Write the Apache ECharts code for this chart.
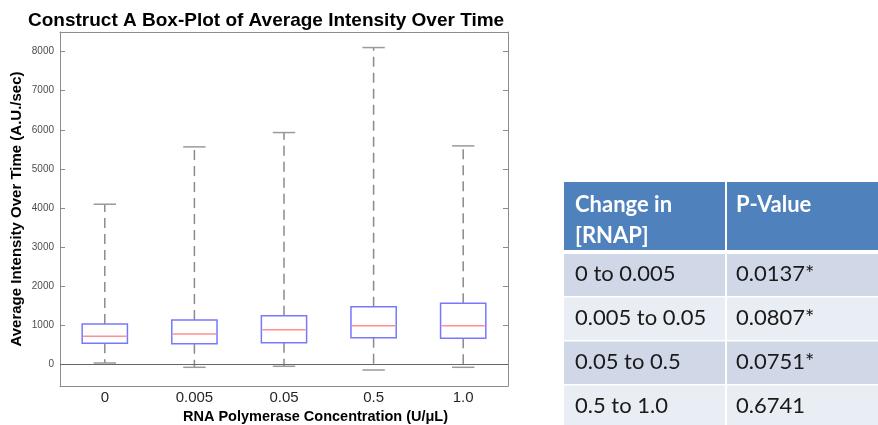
<!DOCTYPE html>
<html>
<head>
<meta charset="utf-8">
<script src="https://cdn.jsdelivr.net/npm/echarts@6/dist/echarts.min.js"></script>
<style>
html,body{margin:0;padding:0;background:#fff;}
#chart{width:878px;height:425px;}
</style>
</head>
<body>
<div id="chart"></div>
<script>
// ---- chart data ----
const categories = ['0', '0.005', '0.05', '0.5', '1.0'];
const whiskerLow  = [38, -72, -46, -141, -72];
const quartile1   = [542, 532, 558, 686, 670];
const medians     = [721, 780, 890, 992, 992];
const quartile3   = [1036, 1138, 1248, 1478, 1565];
const whiskerHigh = [4097, 5563, 5929, 8102, 5588];
const yTickValues = [0, 1000, 2000, 3000, 4000, 5000, 6000, 7000, 8000];

// ---- table data ----
const tableHeader = [['Change in', '[RNAP]'], ['P-Value']];
const tableChange = ['0 to 0.005', '0.005 to 0.05', '0.05 to 0.5', '0.5 to 1.0'];
const tablePValue = ['0.0137*', '0.0807*', '0.0751*', '0.6741'];

const boxData = categories.map((c, i) => [i, whiskerLow[i], quartile1[i], medians[i], quartile3[i], whiskerHigh[i]]);

const chart = echarts.init(document.getElementById('chart'), null, {renderer: 'canvas'});

const FONT = '"Liberation Sans", Arial, sans-serif';
const TFONT = 'Lato, "Open Sans", sans-serif';
const frameColor = '#8c8c8c';

function renderBox(params, api) {
  const x = api.value(0);
  const lo = api.coord([x, api.value(1)]);
  const q1 = api.coord([x, api.value(2)]);
  const md = api.coord([x, api.value(3)]);
  const q3 = api.coord([x, api.value(4)]);
  const hi = api.coord([x, api.value(5)]);
  const bw = api.size([1, 0])[0];
  const boxW = bw * 0.505;
  const capW = bw * 0.25;
  const cx = lo[0];
  const dash = {stroke: '#8a8a8a', lineWidth: 1.5, lineDash: [10, 6]};
  const cap = {stroke: '#9a9a9a', lineWidth: 1.5};
  return {
    type: 'group',
    children: [
      {type: 'line', shape: {x1: cx, y1: q3[1], x2: cx, y2: hi[1]}, style: dash},
      {type: 'line', shape: {x1: cx, y1: q1[1], x2: cx, y2: lo[1]}, style: dash},
      {type: 'line', shape: {x1: cx - capW / 2, y1: hi[1], x2: cx + capW / 2, y2: hi[1]}, style: cap},
      {type: 'line', shape: {x1: cx - capW / 2, y1: lo[1], x2: cx + capW / 2, y2: lo[1]}, style: cap},
      {type: 'rect', shape: {x: cx - boxW / 2, y: q3[1], width: boxW, height: q1[1] - q3[1]},
        style: {fill: 'rgba(255,255,255,1)', stroke: '#7878ff', lineWidth: 1.5}},
      {type: 'line', shape: {x1: cx - boxW / 2 + 1, y1: md[1], x2: cx + boxW / 2 - 1, y2: md[1]},
        style: {stroke: '#ff8f8f', lineWidth: 1.5}}
    ]
  };
}

// table graphics
const tbl = [];
const colX = [564, 727];
const colW = [161, 160];
const rowY = [182, 254, 297.5, 341.5, 385.5];
const rowH = [68, 42, 42.5, 42.5, 45];
const bands = ['#D0D8E8', '#E9EDF4', '#D0D8E8', '#E9EDF4'];
for (let c = 0; c < 2; c++) {
  tbl.push({type: 'rect', shape: {x: colX[c], y: rowY[0], width: colW[c], height: rowH[0]}, style: {fill: '#4F81BD'}});
  tableHeader[c].forEach((t, k) => {
    tbl.push({type: 'text', x: colX[c] + (c === 0 ? 11 : 9), y: 205 + k * 31,
      style: {text: t, fill: '#ffffff', font: 'bold 22px ' + TFONT, verticalAlign: 'middle', align: 'left'}});
  });
  for (let r = 0; r < 4; r++) {
    tbl.push({type: 'rect', shape: {x: colX[c], y: rowY[r + 1], width: colW[c], height: rowH[r + 1]}, style: {fill: bands[r]}});
    const txt = c === 0 ? tableChange[r] : tablePValue[r];
    tbl.push({type: 'text', x: colX[c] + (c === 0 ? 11 : 9), y: rowY[r + 1] + 20,
      style: {text: txt, fill: '#1a1a1a', font: '22px ' + TFONT, verticalAlign: 'middle', align: 'left'}});
  }
}

const option = {
  backgroundColor: '#ffffff',
  animation: false,
  title: {
    text: 'Construct A Box-Plot of Average Intensity Over Time',
    left: 23, top: 6,
    textStyle: {fontFamily: FONT, fontWeight: 'bold', fontSize: 19, color: '#000'}
  },
  grid: {left: 60, right: 370, top: 32, bottom: 39, containLabel: false, outerBoundsMode: 'none'},
  xAxis: [{
    type: 'category', data: categories, position: 'bottom',
    axisLine: {onZero: false, lineStyle: {color: frameColor, width: 1}},
    axisTick: {inside: true, alignWithLabel: true, length: 5, lineStyle: {color: frameColor}},
    axisLabel: {fontFamily: FONT, fontSize: 15, color: '#262626', margin: 4},
    name: 'RNA Polymerase Concentration (U/\u03bcL)',
    nameLocation: 'middle', nameGap: 23, nameMoveOverlap: false,
    nameTextStyle: {fontFamily: FONT, fontWeight: 'bold', fontSize: 14.5, color: '#000', padding: [0, 0, 0, 63]},
    splitLine: {show: false}
  }, {
    type: 'category', data: categories, position: 'top',
    axisLine: {onZero: false, lineStyle: {color: frameColor, width: 1}},
    axisTick: {inside: true, alignWithLabel: true, length: 5, lineStyle: {color: frameColor}},
    axisLabel: {show: false}, splitLine: {show: false}
  }],
  yAxis: [{
    type: 'value', min: -550, max: 8500, position: 'left',
    axisLine: {show: true, onZero: false, lineStyle: {color: frameColor, width: 1}},
    axisTick: {show: true, inside: true, length: 5, customValues: yTickValues, lineStyle: {color: frameColor}},
    axisLabel: {customValues: yTickValues, formatter: v => String(v), fontFamily: FONT, fontSize: 10, color: '#4d4d4d', margin: 6},
    splitLine: {show: false},
    name: 'Average Intensity Over Time (A.U./sec)',
    nameLocation: 'middle', nameGap: 36, nameRotate: 90, nameMoveOverlap: false,
    nameTextStyle: {fontFamily: FONT, fontWeight: 'bold', fontSize: 15, color: '#000'}
  }, {
    type: 'value', min: -550, max: 8500, position: 'right',
    axisLine: {show: true, onZero: false, lineStyle: {color: frameColor, width: 1}},
    axisTick: {show: true, inside: true, length: 5, customValues: yTickValues, lineStyle: {color: frameColor}},
    axisLabel: {show: false}, splitLine: {show: false}
  }],
  series: [{
    type: 'custom',
    renderItem: renderBox,
    data: boxData,
    encode: {x: 0, y: [1, 2, 3, 4, 5]},
    xAxisIndex: 0, yAxisIndex: 0,
    clip: true,
    markLine: {
      silent: true, symbol: 'none', label: {show: false},
      lineStyle: {color: '#666666', width: 1, type: 'solid'},
      data: [{yAxis: 0}]
    }
  }],
  graphic: tbl
};
chart.setOption(option);
</script>
</body>
</html>
